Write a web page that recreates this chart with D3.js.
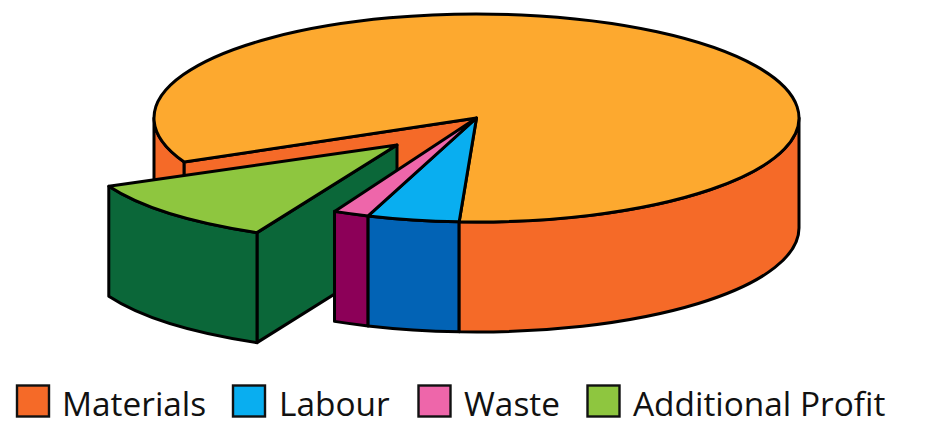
<!DOCTYPE html>
<html><head><meta charset="utf-8">
<script src="https://cdnjs.cloudflare.com/ajax/libs/d3/7.8.5/d3.min.js"></script>
<style>html,body{margin:0;padding:0;background:#fff}svg{display:block}</style>
</head><body><svg id="c" width="938" height="432"></svg>
<script>
const categories = ["Materials", "Labour", "Waste", "Additional Profit"];
const values = [82.8, 4.6, 1.8, 10.8];

const topColor = d3.scaleOrdinal(categories, ["#FDA92F", "#09AEF0", "#EE66AA", "#8EC63F"]);
const sideColor = d3.scaleOrdinal(categories, ["#F56A28", "#0263B5", "#8C0058", "#0B6739"]);
const legendColor = d3.scaleOrdinal(categories, ["#F56A28", "#09AEF0", "#EE66AA", "#8EC63F"]);
const svg = d3.select("#c");
const DEG = Math.PI / 180;
const depth = 110;
const main = {cx: 476.5, cy: 118, rx: 322.5, ry: 104};
const moved = {cx: 397, cy: 145, rx: 318, ry: 97.6};

const arcs = d3.pie().sort(null).startAngle(245 * DEG).endAngle(605 * DEG)(values);
const byName = Object.fromEntries(categories.map((c, i) => [c, arcs[i]]));

const pt = (e, a, dy = 0) => [e.cx + e.rx * Math.sin(a), e.cy - e.ry * Math.cos(a) + dy];
const sweep = (e, a0, a1, dy = 0) => {
  const [x, y] = pt(e, a1, dy);
  const large = Math.abs(a1 - a0) > Math.PI ? 1 : 0;
  return `A${e.rx},${e.ry} 0 ${large} ${a1 > a0 ? 1 : 0} ${x},${y}`;
};
const M = p => `M${p[0]},${p[1]}`, L = p => `L${p[0]},${p[1]}`;
const topPath = (e, a0, a1) => M([e.cx, e.cy]) + L(pt(e, a0)) + sweep(e, a0, a1) + "Z";
const wallPath = (e, a0, a1) => M(pt(e, a0)) + sweep(e, a0, a1) + L(pt(e, a1, depth)) + sweep(e, a1, a0, depth) + "Z";
const cutPath = (e, a) => M([e.cx, e.cy]) + L(pt(e, a)) + L(pt(e, a, depth)) + L([e.cx, e.cy + depth]) + "Z";

const g = svg.append("g").attr("stroke", "#000").attr("stroke-width", 3).attr("stroke-linejoin", "round");
const draw = (d, fill) => g.append("path").attr("d", d).attr("fill", fill);

const mat = byName["Materials"], lab = byName["Labour"], wst = byName["Waste"], prf = byName["Additional Profit"];
// back-left wall and the exposed cut of the main body
draw(wallPath(main, mat.startAngle, 270 * DEG), sideColor("Materials"));
draw(cutPath(main, mat.startAngle), sideColor("Materials"));
// exploded slice
draw(cutPath(moved, prf.startAngle), sideColor("Additional Profit"));
draw(wallPath(moved, prf.startAngle, prf.endAngle), sideColor("Additional Profit"));
draw(topPath(moved, prf.startAngle, prf.endAngle), topColor("Additional Profit"));
// front walls
draw(wallPath(main, wst.startAngle, wst.endAngle), sideColor("Waste"));
draw(wallPath(main, lab.startAngle, lab.endAngle), sideColor("Labour"));
draw(wallPath(main, 450 * DEG, lab.startAngle), sideColor("Materials"));
// tops
draw(topPath(main, mat.startAngle, mat.endAngle), topColor("Materials"));
draw(topPath(main, lab.startAngle, lab.endAngle), topColor("Labour"));
draw(topPath(main, wst.startAngle, wst.endAngle), topColor("Waste"));

// legend
const swatchX = d3.scaleOrdinal(categories, [17, 233, 418.5, 587.5]);
const textX = d3.scaleOrdinal(categories, [62, 279, 464, 633]);
const leg = svg.append("g").selectAll("g").data(categories).join("g");
leg.append("rect").attr("x", d => swatchX(d)).attr("y", 385.5).attr("width", 32).attr("height", 31)
  .attr("fill", d => legendColor(d)).attr("stroke", "#111").attr("stroke-width", 2.4);
leg.append("text").attr("x", d => textX(d)).attr("y", 416).text(d => d)
  .attr("font-family", "'Open Sans'").attr("font-size", 33.4).attr("fill", "#111");
</script></body></html>
